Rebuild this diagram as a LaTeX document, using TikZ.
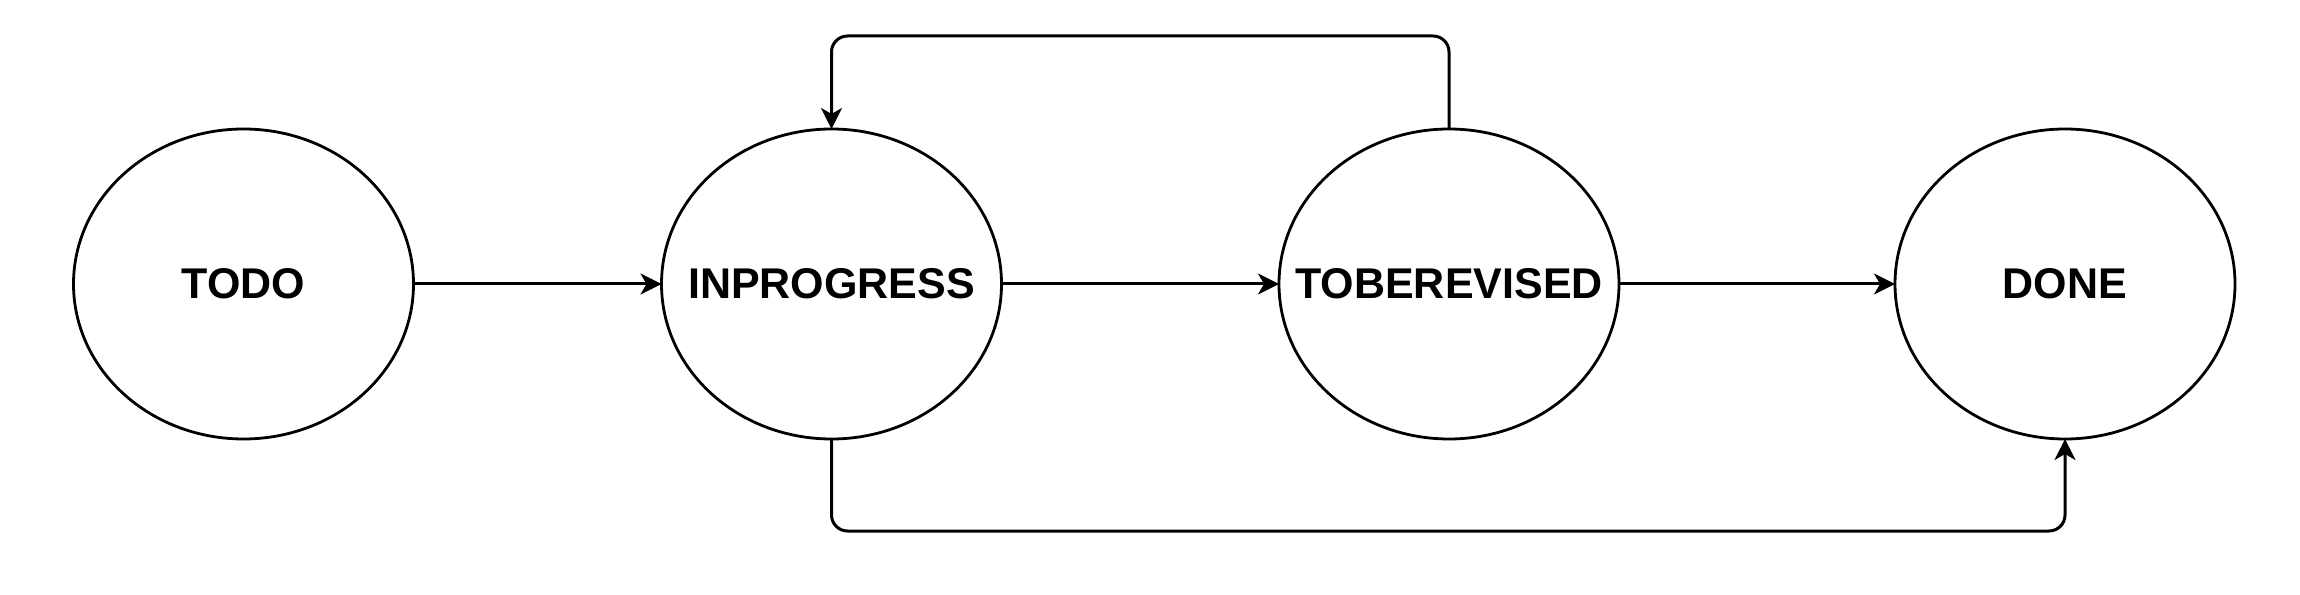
\documentclass[tikz,border=0pt]{standalone}
\usepackage{fontspec}
\setmainfont{Liberation Sans}
\usetikzlibrary{positioning,shapes,arrows.meta}

\begin{document}
\begin{tikzpicture}[x=0.5pt, y=0.5pt,
    state/.style={draw, ellipse, line width=1.4pt, minimum width=170pt, minimum height=155pt,
        inner sep=0pt, outer sep=0pt, font=\bfseries\fontsize{21.5}{24}\selectfont},
    flow/.style={-{Stealth[length=10.5pt,width=10.5pt,inset=3pt]}, line width=1.5pt, rounded corners=8pt}]
            \useasboundingbox (0,0) rectangle (2300,594);
            % zero-width boxes so the ellipses keep their size
            \node[state] (todo) at (243.5,310) {\makebox[0pt]{TODO}};
            \node[state] (inprogress) at (831.5,310) {\makebox[0pt]{INPROGRESS}};
            \node[state] (toberevised) at (1449,310) {\makebox[0pt]{TOBEREVISED}};
            \node[state] (done) at (2065,310) {\makebox[0pt]{DONE}};
            \coordinate (top) at (0,558);
            \coordinate (bot) at (0,63);
            \draw[flow] (todo) -- (inprogress);
            \draw[flow] (inprogress) -- (toberevised);
            \draw[flow] (toberevised) -- (done);
            % back to work, or straight to done
            \draw[flow] (toberevised.north) -- (toberevised.north |- top) -- (inprogress.north |- top) -- (inprogress.north);
            \draw[flow] (inprogress.south) -- (inprogress.south |- bot) -- (done.south |- bot) -- (done.south);
        \end{tikzpicture}
\end{document}
